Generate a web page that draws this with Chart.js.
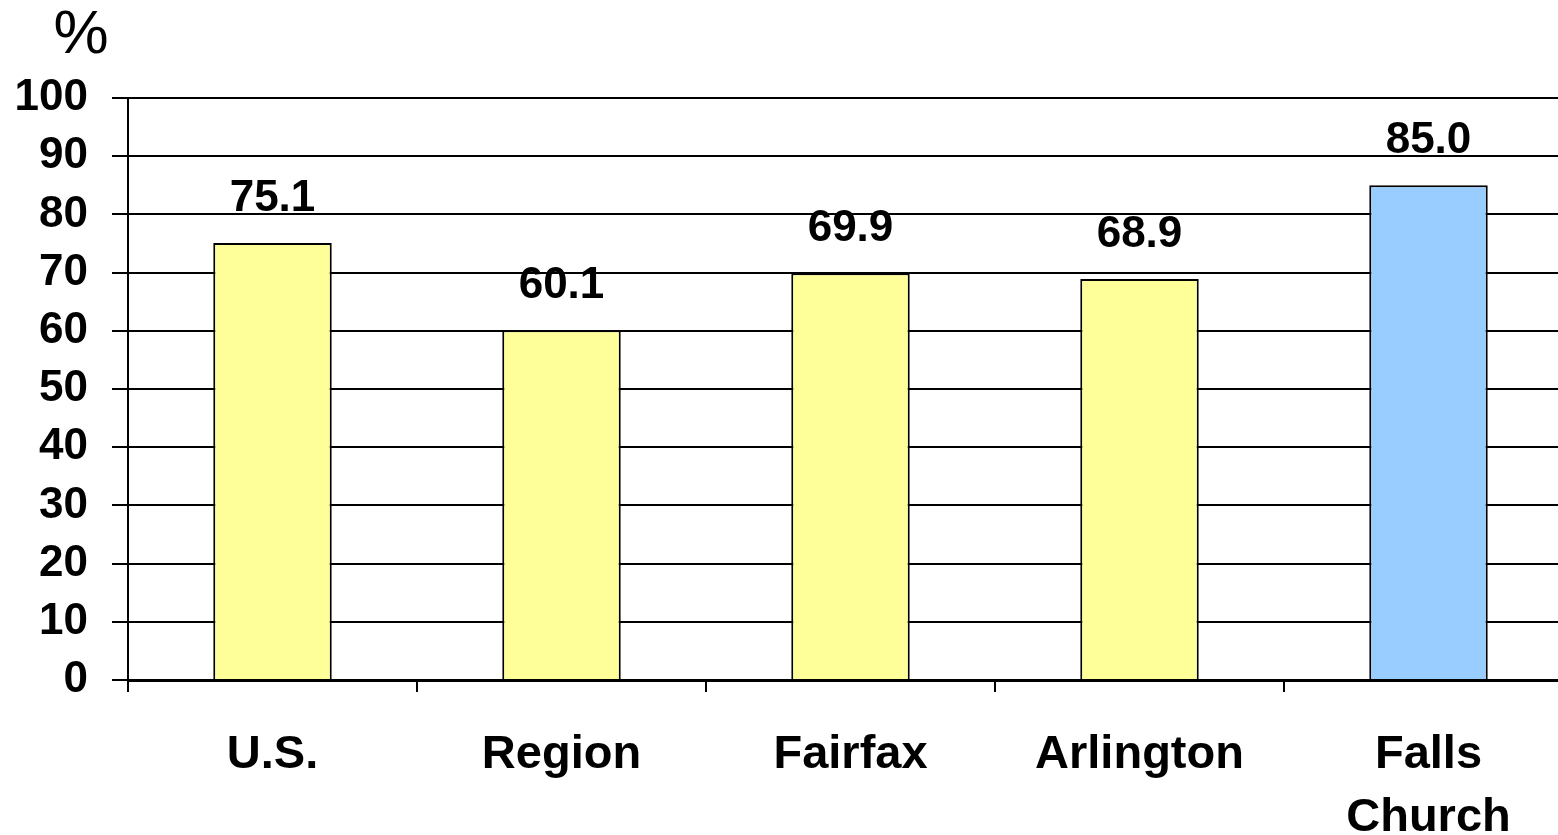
<!DOCTYPE html>
<html>
<head>
<meta charset="utf-8">
<script src="https://cdn.jsdelivr.net/npm/chart.js@4/dist/chart.umd.min.js"></script>
<style>
  html, body { margin: 0; padding: 0; background: #fff; overflow: hidden; }
  /* plot runs a little past the right edge of the window, as in the original */
  #wrap { width: 1573px; height: 835px; }
</style>
</head>
<body>
<div id="wrap"><canvas id="chart"></canvas></div>
<script>
const categories = ["U.S.", "Region", "Fairfax", "Arlington", ["Falls", "Church"]];
const values = [75.1, 60.1, 69.9, 68.9, 85.0];
const barColors = ["#FFFF99", "#FFFF99", "#FFFF99", "#FFFF99", "#99CCFF"];
const yTicks = [0, 10, 20, 30, 40, 50, 60, 70, 80, 90, 100];

const FONT = "'Liberation Sans', Arial, sans-serif";

// value labels above bars + the "%" unit
const valueLabels = {
  id: "valueLabels",
  afterDatasetsDraw(chart) {
    const ctx = chart.ctx;
    ctx.save();
    ctx.fillStyle = "#000";
    ctx.textAlign = "center";
    ctx.textBaseline = "alphabetic";
    ctx.font = "bold 44px " + FONT;
    chart.getDatasetMeta(0).data.forEach((bar, i) => {
      ctx.fillText(values[i].toFixed(1), bar.x, bar.y - 32);
    });
    ctx.font = "62px " + FONT;
    ctx.textBaseline = "middle";
    ctx.fillText("%", 81, 36);
    ctx.restore();
  },
};

new Chart(document.getElementById("chart"), {
  type: "bar",
  data: {
    labels: categories,
    datasets: [
      {
        data: values,
        backgroundColor: barColors,
        borderColor: "#000",
        borderWidth: 2,
        barPercentage: 1,
        categoryPercentage: 0.41,
      },
    ],
  },
  options: {
    responsive: true,
    maintainAspectRatio: false,
    animation: false,
    layout: { padding: { top: 98, right: 0, left: 0, bottom: 0 } },
    plugins: {
      legend: { display: false },
      tooltip: { enabled: false },
    },
    scales: {
      x: {
        offset: true,
        grid: {
          display: true,
          offset: true,
          drawOnChartArea: false,
          drawTicks: true,
          tickLength: 12,
          color: "#000",
          lineWidth: 2,
        },
        border: { display: true, color: "#000", width: 3 },
        ticks: {
          color: "#000",
          padding: 32,
          font: { family: FONT, size: 47, weight: "bold", lineHeight: 1.33 },
          maxRotation: 0,
          autoSkip: false,
        },
        afterFit(scale) { scale.height = 155; },
      },
      y: {
        min: 0,
        max: 100,
        afterBuildTicks(scale) { scale.ticks = yTicks.map(v => ({ value: v })); },
        grid: {
          color: "#000",
          lineWidth: 2,
          drawTicks: true,
          tickLength: 16,
        },
        border: { display: true, color: "#000", width: 2 },
        ticks: {
          color: "#000",
          padding: 24,
          font: { family: FONT, size: 44, weight: "bold" },
        },
        afterFit(scale) { scale.width = 128; },
      },
    },
  },
  plugins: [valueLabels],
});
</script>
</body>
</html>
